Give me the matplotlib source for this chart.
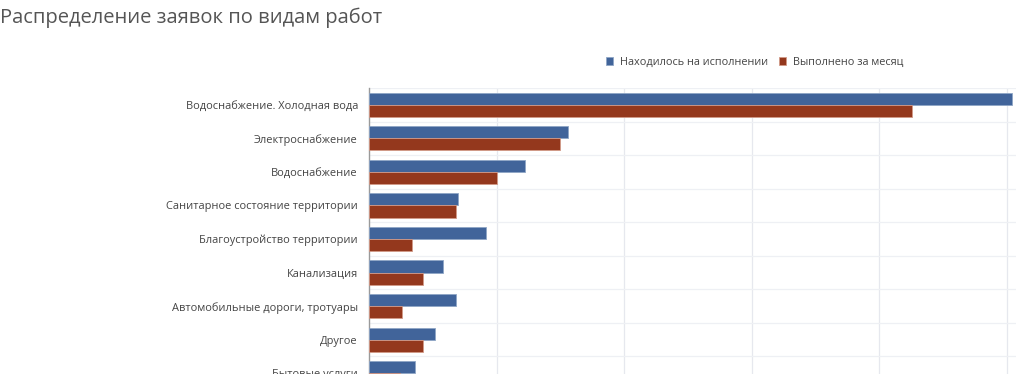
import numpy as np
import matplotlib.pyplot as plt

plt.rcParams['font.family'] = ['Open Sans', 'DejaVu Sans']

categories = [
    "Водоснабжение. Холодная вода",
    "Электроснабжение",
    "Водоснабжение",
    "Санитарное состояние территории",
    "Благоустройство территории",
    "Канализация",
    "Автомобильные дороги, тротуары",
    "Другое",
    "Бытовые услуги",
]
in_progress = [252, 78, 61, 35, 46, 29, 34, 26, 18]
done_month = [213, 75, 50, 34, 17, 21, 13, 21, 12]

blue = "#41649a"
red = "#94381d"

fig = plt.figure(figsize=(10.24, 3.74), dpi=100)
ax = fig.add_axes([369 / 1024, 1 - 390 / 374, (1016 - 369) / 1024, 302 / 374])

y = np.arange(len(categories))
h = 0.36
ax.barh(y - h / 2, in_progress, height=h, color=blue, edgecolor="#8fa6c6",
        linewidth=0.6, label="Находилось на исполнении", zorder=3)
ax.barh(y + h / 2, done_month, height=h, color=red, edgecolor="#d29a88",
        linewidth=0.6, label="Выполнено за месяц", zorder=3)

ax.set_ylim(len(categories) - 0.5, -0.5)
ax.set_xlim(0, 253.7)
ax.set_yticks(y)
ax.set_yticklabels(categories, fontsize=7.9, color="#444444")
ax.set_xticks([50, 100, 150, 200, 250])
ax.tick_params(axis="x", length=0, labelbottom=False)
ax.tick_params(axis="y", length=0, pad=8)
ax.set_yticks(np.arange(len(categories) + 1) - 0.5, minor=True)
ax.tick_params(axis="y", which="minor", length=0)
ax.grid(axis="x", color="#e6e8ee", linewidth=0.9, zorder=0)
ax.grid(axis="y", which="minor", color="#eef0f4", linewidth=0.9, zorder=0)
for s in ["top", "right", "bottom"]:
    ax.spines[s].set_visible(False)
ax.spines["left"].set_color("#9a9a9a")
ax.spines["left"].set_linewidth(1.0)

fig.text(0.0, 1 - 18 / 374, "Распределение заявок по видам работ", fontsize=14.5,
         color="#555555", va="center", ha="left")

ax.legend(loc="center left", bbox_to_anchor=(596 / 1024, 1 - 62 / 374),
          bbox_transform=fig.transFigure, ncol=2, frameon=False, fontsize=7.8,
          handlelength=0.7, handleheight=0.7, handletextpad=0.6, columnspacing=1.0,
          labelcolor="#444444")

fig.savefig("out.png", dpi=100)
